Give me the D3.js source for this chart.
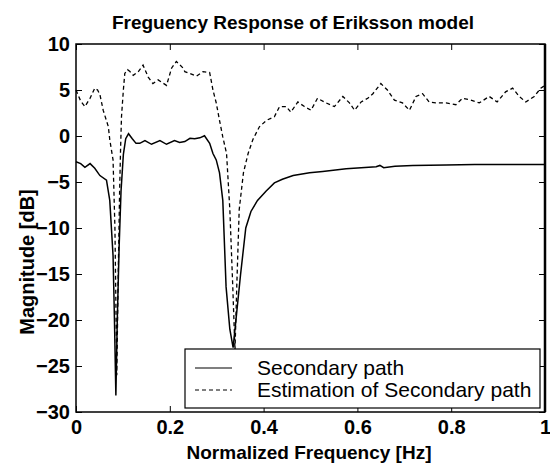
<!DOCTYPE html>
<html lang='en'>
<head>
    <meta charset='UTF-8'>
    <title>Frequency Response of Eriksson model</title>
    <script src='https://d3js.org/d3.v7.min.js'></script>
    <style>
        body { margin: 0; background: #fff; }
        text { font-family: 'Liberation Sans', Arial, sans-serif; fill: #000; }
    </style>
</head>
<body>
<svg id='chart' width='550' height='465'></svg>

<script>
    // secondary path (solid)
    const solidFreq = [0, 0.01, 0.019, 0.03, 0.04, 0.051, 0.065, 0.072, 0.079, 0.082, 0.085, 0.088, 0.092, 0.096,
        0.101, 0.106, 0.112, 0.12, 0.128, 0.136, 0.147, 0.161, 0.179, 0.193, 0.21, 0.221, 0.232, 0.243, 0.253,
        0.264, 0.274, 0.285, 0.292, 0.299, 0.306, 0.313, 0.32, 0.328, 0.335, 0.343, 0.351, 0.362, 0.373, 0.387,
        0.405, 0.423, 0.44, 0.463, 0.498, 0.526, 0.576, 0.64, 0.648, 0.656, 0.68, 0.718, 0.789, 0.85, 1.0]
    const solidDb = [-2.8, -3.0, -3.4, -3.0, -3.5, -4.3, -4.8, -7, -13, -20, -28.2, -20, -12, -6,
        -2, -0.3, 0.25, -0.3, -0.8, -0.8, -0.5, -0.9, -0.5, -0.9, -0.5, -0.7, -0.6, -0.25, -0.3,
        -0.2, 0.03, -0.8, -1.9, -2.6, -4, -7, -16.4, -21, -23, -19, -15, -10, -8.2, -7,
        -6, -5.1, -4.7, -4.3, -4.0, -3.85, -3.55, -3.35, -3.2, -3.45, -3.28, -3.2, -3.15, -3.1, -3.1]

    // estimation of secondary path (dashed)
    const dashFreq = [0, 0.01, 0.019, 0.03, 0.04, 0.046, 0.051, 0.058, 0.069, 0.072, 0.079, 0.083, 0.087, 0.09,
        0.093, 0.095, 0.097, 0.101, 0.104, 0.11, 0.115, 0.122, 0.133, 0.143, 0.154, 0.164, 0.175, 0.193, 0.204,
        0.214, 0.228, 0.232, 0.243, 0.257, 0.271, 0.285, 0.292, 0.299, 0.306, 0.313, 0.321, 0.328, 0.334, 0.339,
        0.343, 0.348, 0.357, 0.367, 0.377, 0.391, 0.406, 0.423, 0.434, 0.448, 0.458, 0.473, 0.487, 0.501, 0.515,
        0.533, 0.551, 0.569, 0.583, 0.594, 0.608, 0.622, 0.633, 0.65, 0.664, 0.679, 0.696, 0.711, 0.725, 0.739,
        0.753, 0.767, 0.789, 0.81, 0.824, 0.842, 0.86, 0.881, 0.898, 0.916, 0.931, 0.945, 0.959, 0.977, 0.991, 1.0]
    const dashDb = [5.0, 3.8, 3.2, 4.1, 5.2, 5.0, 4.5, 2.8, 1.0, -0.4, -2.6, -10, -26, -15,
        -6, -1.5, 2.1, 5.0, 6.8, 7.2, 7.0, 6.6, 7.0, 7.7, 6.4, 5.7, 6.1, 5.5, 7.4,
        8.1, 7.4, 7.0, 6.8, 6.5, 7.0, 6.9, 5.0, 3.6, 1.7, -0.1, -1.9, -8, -16, -23.3,
        -16, -8, -4, -1.9, -0.4, 1.0, 1.7, 2.1, 3.2, 3.2, 2.6, 3.7, 3.2, 2.8, 4.1,
        3.6, 3.2, 4.3, 3.6, 2.8, 3.7, 4.1, 4.6, 5.7, 5.0, 3.9, 3.6, 2.8, 4.3, 4.6,
        3.7, 3.6, 3.6, 3.4, 4.1, 3.9, 3.6, 4.3, 3.7, 4.8, 5.2, 4.3, 3.7, 4.3, 5.2, 5.5]

    const xTicks = [0, 0.2, 0.4, 0.6, 0.8, 1]
    const yTicks = [-30, -25, -20, -15, -10, -5, 0, 5, 10]
    const legendLabels = ['Secondary path', 'Estimation of Secondary path']

    const svg = d3.select('#chart')
    const pLeft = 76, pRight = 545, pTop = 44, pBottom = 412

    const x = d3.scaleLinear().domain([0, 1]).range([pLeft, pRight])
    const y = d3.scaleLinear().domain([-30, 10]).range([pBottom, pTop])

    const line = d3.line().x(d => x(d[0])).y(d => y(d[1]))
    const solid = d3.zip(solidFreq, solidDb)
    const dashed = d3.zip(dashFreq, dashDb)

    svg.append('path').datum(dashed)
        .attr('d', line).attr('fill', 'none').attr('stroke', '#000')
        .attr('stroke-width', 1.3).attr('stroke-dasharray', '4,3')
    svg.append('path').datum(solid)
        .attr('d', line).attr('fill', 'none').attr('stroke', '#000')
        .attr('stroke-width', 1.5)

    // matlab style box with inward ticks on every side
    const tickLen = 6
    const gx = svg.append('g').attr('transform', `translate(0,${pBottom})`)
        .call(d3.axisBottom(x).tickValues(xTicks).tickSizeInner(-tickLen).tickSizeOuter(0).tickPadding(8)
            .tickFormat(d3.format('')))
    const gy = svg.append('g').attr('transform', `translate(${pLeft},0)`)
        .call(d3.axisLeft(y).tickValues(yTicks).tickSizeInner(-tickLen).tickSizeOuter(0).tickPadding(6))
    svg.append('g').attr('transform', `translate(0,${pTop})`)
        .call(d3.axisTop(x).tickValues(xTicks).tickSizeInner(-tickLen).tickSizeOuter(0).tickFormat(''))
    svg.append('g').attr('transform', `translate(${pRight},0)`)
        .call(d3.axisRight(y).tickValues(yTicks).tickSizeInner(-tickLen).tickSizeOuter(0).tickFormat(''))

    svg.selectAll('.domain').remove()
    svg.selectAll('.tick line').attr('stroke', '#000')
    svg.selectAll('.tick text')
        .style('font-family', "'Liberation Sans', Arial, sans-serif")
        .style('font-size', '20px').style('font-weight', 'bold').attr('fill', '#000')
    gx.selectAll('.tick text').attr('dy', '0.7em')

    svg.append('rect')
        .attr('x', pLeft).attr('y', pTop).attr('width', pRight - pLeft).attr('height', pBottom - pTop)
        .attr('fill', 'none').attr('stroke', '#000').attr('stroke-width', 1.5)
    svg.append('line').attr('x1', pRight).attr('x2', pRight).attr('y1', pTop).attr('y2', pBottom)
        .attr('stroke', '#000').attr('stroke-width', 2.5)

    // legend
    const lg = svg.append('g')
    lg.append('rect').attr('x', 185).attr('y', 349).attr('width', 355).attr('height', 59)
        .attr('fill', '#fff').attr('stroke', '#000').attr('stroke-width', 1.2)
    legendLabels.forEach((label, i) => {
        const ly = 368 + i * 22
        lg.append('line').attr('x1', 195).attr('x2', 232).attr('y1', ly).attr('y2', ly)
            .attr('stroke', '#000').attr('stroke-width', 1.2)
            .attr('stroke-dasharray', i === 1 ? '4,3' : null)
        lg.append('text').attr('x', 257).attr('y', ly + 7)
            .style('font-size', '21px').text(label)
    })

    // titles
    svg.append('text').attr('x', 293).attr('y', 29).attr('text-anchor', 'middle')
        .style('font-size', '19px').style('font-weight', 'bold')
        .text('Freguency Response of Eriksson model')
    svg.append('text').attr('x', 309).attr('y', 459).attr('text-anchor', 'middle')
        .style('font-size', '19px').style('font-weight', 'bold')
        .text('Normalized Frequency [Hz]')
    svg.append('text').attr('transform', 'translate(34,262) rotate(-90)').attr('text-anchor', 'middle')
        .style('font-size', '20px').style('font-weight', 'bold')
        .text('Magnitude [dB]')
</script>
</body>
</html>
